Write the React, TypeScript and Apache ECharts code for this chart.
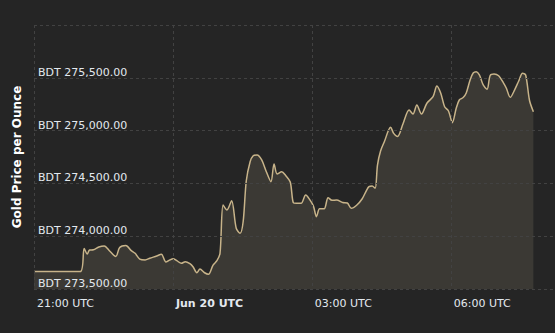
import React, { useEffect, useRef } from "react";
import * as echarts from "echarts";

// Times (UTC, starting Jun 19 21:00) and gold price in BDT per ounce
const times: string[] = [
  "21:00", "22:00", "22:05", "22:09", "22:12", "22:17", "22:24", "22:31", "22:38", "22:46",
  "22:51", "22:59", "23:06", "23:11", "23:17", "23:24", "23:30", "23:39", "23:45", "23:51",
  "00:00", "00:05", "00:11", "00:16", "00:22", "00:26", "00:31", "00:35", "00:41", "00:46",
  "00:52", "00:57", "01:01", "01:05", "01:10", "01:16", "01:22", "01:27", "01:31", "01:35",
  "01:40", "01:44", "01:49", "01:55", "02:01", "02:07", "02:11", "02:15", "02:21", "02:26",
  "02:32", "02:36", "02:40", "02:46", "02:52", "02:57", "03:02", "03:06", "03:10", "03:16",
  "03:21", "03:26", "03:32", "03:40", "03:46", "03:51", "03:58", "04:05", "04:11", "04:14",
  "04:18", "04:22", "04:25", "04:29", "04:34", "04:42", "04:46", "04:51", "04:58", "05:06",
  "05:11", "05:16", "05:22", "05:29", "05:37", "05:42", "05:47", "05:52", "05:57", "06:02",
  "06:07", "06:11", "06:16", "06:20", "06:25", "06:29", "06:33", "06:37", "06:42", "06:47",
  "06:51", "06:56", "07:02", "07:08", "07:12", "07:17", "07:23", "07:28", "07:33", "07:37",
  "07:42", "07:47",
];
const prices: number[] = [
  273665, 273665, 273884, 273831, 273869, 273872, 273898, 273907, 273860, 273808,
  273893, 273912, 273863, 273838, 273784, 273775, 273791, 273813, 273829, 273756,
  273787, 273768, 273743, 273759, 273740, 273711, 273654, 273689, 273654, 273640,
  273727, 273768, 273838, 274295, 274248, 274336, 274075, 274027, 274139, 274523,
  274705, 274762, 274769, 274722, 274611, 274516, 274684, 274589, 274611, 274575,
  274513, 274317, 274312, 274312, 274390, 274349, 274286, 274185, 274260, 274260,
  274365, 274340, 274343, 274319, 274314, 274264, 274293, 274352, 274437, 274469,
  274475, 274454, 274674, 274807, 274897, 275031, 274974, 274944, 275063, 275195,
  275157, 275242, 275157, 275259, 275321, 275422, 275353, 275226, 275186, 275075,
  275211, 275290, 275313, 275356, 275479, 275545, 275557, 275527, 275432, 275392,
  275522, 275536, 275519, 275455, 275401, 275315, 275391, 275470, 275543, 275527,
  275285, 275179,
];
const xTickLabels: string[] = ["21:00 UTC", "Jun 20 UTC", "03:00 UTC", "06:00 UTC"];
const yMin = 273500;
const yMax = 276000;
const yStep = 500;
const xStepMinutes = 180;
const xMaxMinutes = 675;

function minutesFrom21(t: string): number {
  const [h, m] = t.split(":").map(Number);
  let mins = (h - 21) * 60 + m;
  if (mins < 0) mins += 24 * 60;
  return mins;
}

export default function App() {
  const ref = useRef<HTMLDivElement>(null);
  useEffect(() => {
    if (!ref.current) return;
    const chart = echarts.init(ref.current, null, { renderer: "svg" });
    const data = times.map((t, i) => [minutesFrom21(t), prices[i]]);
    const font = "DejaVu Sans, Verdana, sans-serif";
    chart.setOption({
      animation: false,
      backgroundColor: "#252525",
      grid: { left: 34, right: 0, top: 25, bottom: 44 },
      xAxis: {
        type: "value",
        min: 0,
        max: xMaxMinutes,
        interval: xStepMinutes,
        z: 3,
        axisLine: { show: false },
        axisTick: { show: false },
        splitLine: { show: true, lineStyle: { color: "#424242", type: [3, 3], width: 1 } },
        axisLabel: {
          align: "left",
          margin: 9,
          padding: [0, 0, 0, 3],
          color: "#e3e9ef",
          fontFamily: font,
          fontSize: 11,
          showMaxLabel: false,
          formatter: (v: number) => {
            const idx = Math.round(v / xStepMinutes);
            const label = xTickLabels[idx] ?? "";
            return idx === 1 ? "{b|" + label + "}" : label;
          },
          rich: {
            b: { fontWeight: "bold", color: "#e3e9ef", fontFamily: font, fontSize: 11 },
          },
        },
      },
      yAxis: {
        type: "value",
        min: yMin,
        max: yMax,
        interval: yStep,
        z: 3,
        name: "Gold Price per Ounce",
        nameLocation: "middle",
        nameGap: 11,
        nameTextStyle: { color: "#ffffff", fontWeight: "bold", fontSize: 12, fontFamily: font },
        axisLine: { show: false },
        axisTick: { show: false },
        splitLine: { show: true, lineStyle: { color: "#424242", type: [3, 3], width: 1 } },
        axisLabel: {
          inside: true,
          margin: 4,
          verticalAlign: "bottom",
          color: "#e3e9ef",
          fontFamily: font,
          fontSize: 11,
          showMaxLabel: false,
          showMinLabel: true,
          formatter: (v: number) =>
            "BDT " + v.toLocaleString("en-US", { minimumFractionDigits: 2, maximumFractionDigits: 2 }),
        },
      },
      series: [
        {
          type: "line",
          data,
          showSymbol: false,
          smooth: 0.3,
          lineStyle: { color: "#c8b48a", width: 1.5 },
          areaStyle: { color: "#3b3934", opacity: 1 },
          z: 1,
        },
      ],
    });
    return () => chart.dispose();
  }, []);
  return (
    <div
      ref={ref}
      style={{ position: "fixed", left: 0, top: 0, width: 555, height: 333 }}
    />
  );
}
